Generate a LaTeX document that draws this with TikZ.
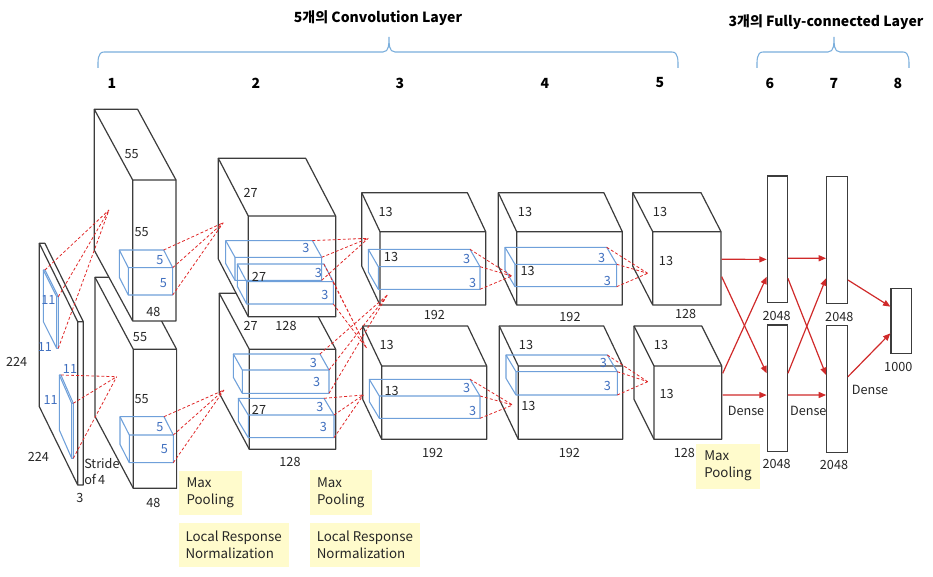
\documentclass[tikz,border=0pt]{standalone}
\usepackage{fontspec}
\setmainfont{Noto Sans CJK KR}
\usetikzlibrary{arrows.meta}
\definecolor{dark}{HTML}{3C3C3C}
\definecolor{azzurro}{HTML}{6FA0DA}
\definecolor{tblu}{HTML}{3F6FBF}
\definecolor{rosso}{HTML}{E02828}
\definecolor{frosso}{HTML}{D02A2A}
\definecolor{giallo}{HTML}{FFFBCC}
\definecolor{graffa}{HTML}{7AAEDC}

% parallelepipedo visto dall'alto a sinistra: nome, fronte (x,y), larghezza, altezza, profondita (dx,dy)
\newcommand{\cubo}[8][]{%
  \coordinate (#2-btr) at (#3+#5-#7,#4-#8);
  \coordinate (#2-ftr) at (#3+#5,#4);
  \coordinate (#2-fbr) at (#3+#5,#4+#6);
  \path[#1] (#3-#7,#4-#8) -- (#3+#5-#7,#4-#8) -- (#3+#5,#4) -- (#3+#5,#4+#6)
    -- (#3,#4+#6) -- (#3-#7,#4+#6-#8) -- cycle;
  \path[#1, fill=none] (#3-#7,#4-#8) -- (#3,#4) -- (#3+#5,#4) (#3,#4) -- (#3,#4+#6);
}

\begin{document}
\begin{tikzpicture}[x=0.75pt, y=-0.75pt,
  scatola/.style={draw=dark, fill=white, line width=0.9pt, line join=round},
  filtro/.style={draw=azzurro, line width=0.8pt, line join=round},
  trat/.style={rosso, line width=0.6pt, dash pattern=on 2.2pt off 1.6pt},
  freccia/.style={frosso, line width=0.9pt, -{Triangle[length=5.5pt,width=4.5pt]}},
  lab/.style={font=\fontsize{9.5}{12}\selectfont, text=black!85, inner sep=0pt},
  blab/.style={lab, text=tblu},
  fc/.style={draw=dark, fill=white, line width=0.9pt, minimum width=15pt, inner sep=0pt},
  nota/.style={fill=giallo, anchor=north west, align=left, inner sep=0pt,
    font=\fontsize{10}{12.75}\selectfont, text=black!85},
  num/.style={font=\fontsize{10.5}{12}\bfseries, inner sep=0pt},
  graffa/.style={draw=graffa, line width=0.8pt}]
  \useasboundingbox (0,0) rectangle (933,577);

  % Immagine di ingresso
  \cubo[scatola]{in}{77.7}{321.7}{5.6}{163.3}{38.4}{78.4}
  \cubo[filtro]{k0a}{56.7}{296.7}{1.6}{51.6}{13.4}{26.7}
  \cubo[filtro]{k0b}{71.7}{403.3}{1.6}{55}{12.4}{28.3}

  % Strato 1
  \cubo[scatola]{l1b}{133.3}{349.3}{43.3}{139}{38.3}{72}
  \cubo[scatola]{l1a}{132.7}{180}{43.3}{141}{38.4}{70.7}
  \cubo[filtro]{k1a}{128.3}{267.7}{44.4}{27.3}{9}{17.7}
  \cubo[filtro]{k1b}{129.3}{435}{44}{27.7}{9.3}{18.3}

  % Strato 2
  \cubo[scatola]{l2b}{249.3}{349.3}{86.4}{100}{30}{56}
  \cubo[scatola]{l2a}{248.3}{216}{87.4}{100.7}{30}{57.7}
  \cubo[filtro]{k2a}{235}{257.3}{86.7}{23}{9.3}{16.7}
  \cubo[filtro]{k2b}{246.7}{281.7}{86.6}{22.3}{9.4}{17.7}
  \cubo[filtro]{k2c}{242.3}{370}{86.7}{23.3}{9}{16}
  \cubo[filtro]{k2d}{248.3}{415}{85.7}{22.7}{10}{16.7}

  % Strato 3
  \cubo[scatola]{l3a}{380}{231.7}{105.7}{73.3}{18.3}{39}
  \cubo[scatola]{l3b}{381.7}{366}{105}{73.3}{19}{40}
  \cubo[filtro]{k3a}{378.3}{266.7}{101.7}{22.6}{10}{17.4}
  \cubo[filtro]{k3b}{379.3}{396}{100.7}{22.3}{10}{16.7}

  % Strato 4
  \cubo[scatola]{l4a}{516.7}{231.7}{105.6}{73.3}{18.4}{39}
  \cubo[scatola]{l4b}{518.3}{366}{104.4}{73.3}{19}{40}
  \cubo[filtro]{k4a}{515}{264.3}{101.7}{22.4}{10}{17}
  \cubo[filtro]{k4b}{516}{371.7}{101.3}{23.3}{10}{16.7}

  % Strato 5
  \cubo[scatola]{l5a}{652.7}{231.7}{68.3}{73.3}{20}{39}
  \cubo[scatola]{l5b}{654}{366}{67.7}{73.3}{20}{40}

  % Punti di arrivo dei filtri
  \coordinate (a1u) at (109,210);
  \coordinate (a1d) at (116.7,376.7);
  \coordinate (a2u) at (223.3,222.7);
  \coordinate (a2d) at (224,390);
  \coordinate (a3u) at (368.3,238.3);
  \coordinate (a3d) at (363.3,395);
  \coordinate (x3u) at (387.3,295);
  \coordinate (x3d) at (366.7,348.3);
  \coordinate (a4u) at (511.7,276);
  \coordinate (a4d) at (512.7,405);
  \coordinate (a5u) at (647.7,273.3);
  \coordinate (a5d) at (647.7,381.7);

  % Linee tratteggiate
  \draw[trat] (k0a-btr) -- (a1u) (k0a-ftr) -- (a1u) (k0a-fbr) -- (a1u);
  \draw[trat] (k0b-btr) -- (a1d) (k0b-ftr) -- (a1d) (k0b-fbr) -- (a1d);
  \draw[trat] (k1a-btr) -- (a2u) (k1a-ftr) -- (a2u) (k1a-fbr) -- (a2u);
  \draw[trat] (k1b-btr) -- (a2d) (k1b-ftr) -- (a2d) (k1b-fbr) -- (a2d);
  \draw[trat] (k2a-btr) -- (a3u) (k2a-ftr) -- (a3u) (k2a-fbr) -- (a3u);
  \draw[trat] (k2b-btr) -- (x3d) (k2b-ftr) -- (x3d) (k2b-fbr) -- (x3d);
  \draw[trat] (k2c-btr) -- (x3u) (k2c-ftr) -- (x3u) (k2c-fbr) -- (x3u);
  \draw[trat] (k2d-btr) -- (a3d) (k2d-ftr) -- (a3d) (k2d-fbr) -- (a3d);
  \draw[trat] (k3a-btr) -- (a4u) (k3a-ftr) -- (a4u) (k3a-fbr) -- (a4u);
  \draw[trat] (k3b-btr) -- (a4d) (k3b-ftr) -- (a4d) (k3b-fbr) -- (a4d);
  \draw[trat] (k4a-btr) -- (a5u) (k4a-ftr) -- (a5u) (k4a-fbr) -- (a5u);
  \draw[trat] (k4b-btr) -- (a5d) (k4b-ftr) -- (a5d) (k4b-fbr) -- (a5d);

  % Strati densi
  \node[fc, minimum height=95pt] (fc6a) at (777.3,239.4) {};
  \node[fc, minimum height=95pt] (fc6b) at (777.3,388.4) {};
  \node[fc, minimum height=95pt, minimum width=15.5pt] (fc7a) at (837,240) {};
  \node[fc, minimum height=95pt, minimum width=15.5pt] (fc7b) at (837,389) {};
  \node[fc, minimum height=48.8pt, minimum width=15.5pt] (fc8) at (901.3,320.8) {};

  \coordinate (o5a1) at (721.7,259.3);
  \coordinate (o5a2) at (721.7,276.7);
  \coordinate (o5b1) at (722.7,373.3);
  \coordinate (o5b2) at (722.7,395);

  \draw[freccia] (o5a1) -- ([yshift=-15pt]fc6a.west);
  \draw[freccia] (o5a2) -- ([yshift=11.3pt]fc6b.west);
  \draw[freccia] (o5b1) -- ([yshift=-28pt]fc6a.west);
  \draw[freccia] (o5b2) -- ([yshift=-5pt]fc6b.west);
  \draw[freccia] ([yshift=-14.2pt]fc6a.east) -- ([yshift=-13.7pt]fc7a.west);
  \draw[freccia] ([yshift=-29.2pt]fc6a.east) -- ([yshift=10.5pt]fc7b.west);
  \draw[freccia] ([yshift=11.3pt]fc6b.east) -- ([yshift=-28.7pt]fc7a.west);
  \draw[freccia] ([yshift=-5pt]fc6b.east) -- ([yshift=-4.5pt]fc7b.west);
  \draw[freccia] ([yshift=-30pt]fc7a.east) -- ([yshift=10.6pt]fc8.west);
  \draw[freccia] ([yshift=9.2pt]fc7b.east) -- ([yshift=-9.4pt]fc8.west);

  % Etichette ingresso
  \node[lab] (in-h) at (16.7,361.7) {224};
  \node[lab] (in-w) at (38.3,456.7) {224};
  \node[lab] (in-c) at (80,498.3) {3};
  \node[lab, align=left, anchor=west] (stride) at (84,472) {Stride\\of\,4};
  \node[blab] (k0a-w) at (48.3,300) {11};
  \node[blab] (k0a-h) at (45,346.7) {11};
  \node[blab] (k0b-w) at (70,369.3) {11};
  \node[blab] (k0b-h) at (50.7,400) {11};

  % Etichette strato 1
  \node[lab] (l1a-d) at (131.7,154) {55};
  \node[lab] (l1a-h) at (141.7,231.7) {55};
  \node[lab] (l1a-c) at (153.3,311.7) {48};
  \node[blab] (k1a-w) at (160,260) {5};
  \node[blab] (k1a-h) at (163.3,283.3) {5};
  \node[lab] (l1b-d) at (140,336.7) {55};
  \node[lab] (l1b-h) at (141.7,399.3) {55};
  \node[lab] (l1b-c) at (153.3,503.3) {48};
  \node[blab] (k1b-w) at (160,426.7) {5};
  \node[blab] (k1b-h) at (164.3,449.3) {5};

  % Etichette strato 2
  \node[lab] (l2a-d) at (250.7,192.7) {27};
  \node[lab] (l2a-h) at (259,276.7) {27};
  \node[lab] (l2a-w) at (250.7,326) {27};
  \node[lab] (l2a-c) at (286,326) {128};
  \node[blab] (k2a-w) at (306,248.3) {3};
  \node[blab] (k2a-h) at (318.3,272.7) {3};
  \node[blab] (k2b-h) at (325,295) {3};
  \node[lab] (l2b-h) at (259,410) {27};
  \node[lab] (l2b-c) at (290,461.7) {128};
  \node[blab] (k2c-w) at (313.3,362.7) {3};
  \node[blab] (k2c-h) at (316.7,381.7) {3};
  \node[blab] (k2d-w) at (320,406.7) {3};
  \node[blab] (k2d-h) at (323.3,426.7) {3};

  % Etichette strati 3, 4, 5
  \node[lab] (l3a-d) at (385.7,211.7) {13};
  \node[lab] (l3a-h) at (391,257.3) {13};
  \node[lab] (l3a-c) at (434.3,315) {192};
  \node[blab] (k3a-w) at (466.7,259.3) {3};
  \node[blab] (k3a-h) at (472.7,282.7) {3};
  \node[lab] (l3b-d) at (386.7,345) {13};
  \node[lab] (l3b-h) at (391.7,390.7) {13};
  \node[lab] (l3b-c) at (432.7,452.7) {192};
  \node[blab] (k3b-w) at (466.7,388.3) {3};
  \node[blab] (k3b-h) at (472.7,410.7) {3};
  \node[lab] (l4a-d) at (525,211.7) {13};
  \node[lab] (l4a-h) at (527.7,271) {13};
  \node[lab] (l4a-c) at (570,316.7) {192};
  \node[blab] (k4a-w) at (601.7,258.3) {3};
  \node[blab] (k4a-h) at (607.3,280.7) {3};
  \node[lab] (l4b-d) at (526,345) {13};
  \node[lab] (l4b-h) at (528.3,406) {13};
  \node[lab] (l4b-c) at (569.3,452.7) {192};
  \node[blab] (k4b-w) at (603.3,362.7) {3};
  \node[blab] (k4b-h) at (607.3,386) {3};
  \node[lab] (l5a-d) at (660,211.7) {13};
  \node[lab] (l5a-h) at (666,260.7) {13};
  \node[lab] (l5a-c) at (685.7,314) {128};
  \node[lab] (l5b-d) at (661,345) {13};
  \node[lab] (l5b-h) at (666.7,394) {13};
  \node[lab] (l5b-c) at (684.3,452.7) {128};

  % Etichette strati densi
  \node[lab] (fc6a-n) at (776.7,316) {2048};
  \node[lab] (fc6b-n) at (776.7,464) {2048};
  \node[lab] (fc7a-n) at (839.3,316.7) {2048};
  \node[lab] (fc7b-n) at (834,465) {2048};
  \node[lab] (fc8-n) at (898.3,366.7) {1000};
  \node[lab] (d6) at (746,410.7) {Dense};
  \node[lab] (d7) at (808.3,410.7) {Dense};
  \node[lab] (d8) at (870,390) {Dense};

  % Note gialle
  \node[nota, minimum width=47.5pt, minimum height=33.2pt] (mp1) at (178.3,470.7) {Max\\Pooling};
  \node[nota, minimum width=82.5pt, minimum height=33pt] (lrn1) at (178.3,522.7) {Local Response\\Normalization};
  \node[nota, minimum width=46.8pt, minimum height=34.3pt] (mp2) at (309.3,469.3) {Max\\Pooling};
  \node[nota, minimum width=83pt, minimum height=33pt] (lrn2) at (309.3,522.7) {Local Response\\Normalization};
  \node[nota, minimum width=47.5pt, minimum height=33.8pt] (mp5) at (696,443.3) {Max\\Pooling};

  % Titoli e graffe
  \node[num] (tconv) at (378,18) {5개의 Convolution Layer};
  \node[num] (tfc) at (826,22) {3개의 Fully-connected Layer};
  \draw[graffa] (98,68) to[out=90,in=180] (104,52) -- (383,52) to[out=0,in=-90] (389,37)
    to[out=-90,in=180] (395,52) -- (672,52) to[out=0,in=90] (678,68);
  \draw[graffa] (757,68) to[out=90,in=180] (763,52) -- (828,52) to[out=0,in=-90] (834,37)
    to[out=-90,in=180] (840,52) -- (903,52) to[out=0,in=90] (909,68);
  \node[num] (n1) at (112,83) {1};
  \node[num] (n2) at (256,83) {2};
  \node[num] (n3) at (400,83) {3};
  \node[num] (n4) at (545,83) {4};
  \node[num] (n5) at (660,83) {5};
  \node[num] (n6) at (770,83) {6};
  \node[num] (n7) at (834,83) {7};
  \node[num] (n8) at (898,83) {8};
\end{tikzpicture}
\end{document}
